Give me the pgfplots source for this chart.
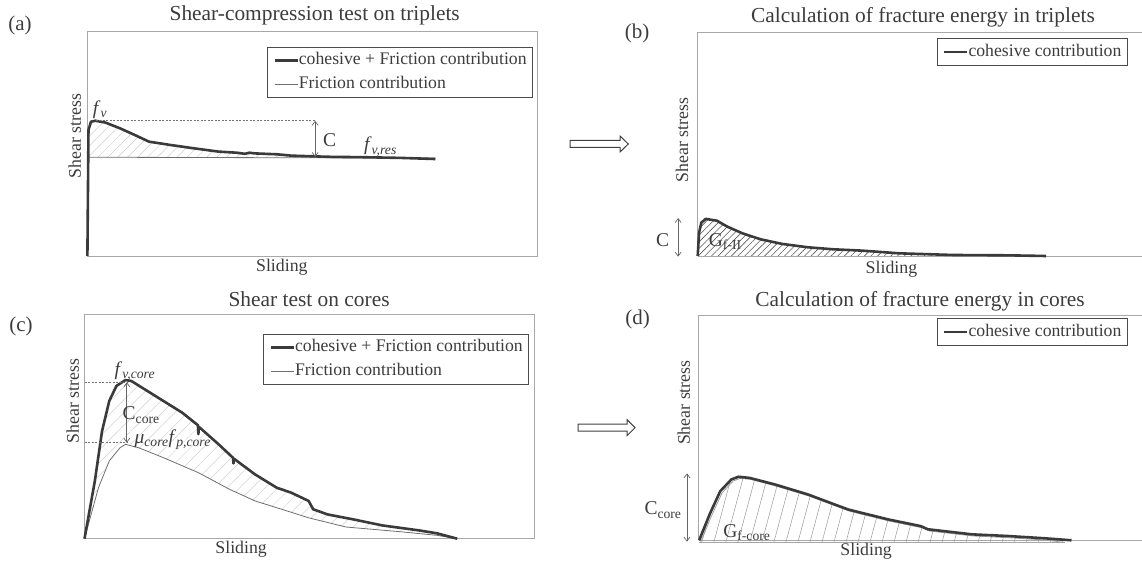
\documentclass[border=0pt]{standalone}
\usepackage{pgfplots}
\pgfplotsset{compat=1.18}
\usepgfplotslibrary{fillbetween}
\usetikzlibrary{patterns.meta,arrows.meta}
\usepackage{fontspec}
\setmainfont{Liberation Serif}

\definecolor{curve}{HTML}{3A3A3A}
\definecolor{fric}{HTML}{6E6E6E}
\definecolor{frame}{HTML}{A8A8A8}
\definecolor{txt}{HTML}{3C3C3C}

\newcommand\fTitle{\fontsize{21.4}{24}\selectfont}
\newcommand\fLab{\fontsize{17.8}{20}\selectfont}
\newcommand\fLeg{\fontsize{17.7}{20}\selectfont}
\newcommand\fTag{\fontsize{21}{24}\selectfont}
\newcommand\fAnn{\fontsize{19.5}{22}\selectfont}

\tikzset{
  boldln/.style={color=curve, line width=2.6pt, line join=round},
  fricln/.style={color=fric, line width=0.8pt},
  ann/.style={draw=black!60, line width=0.7pt,
    {Straight Barb[length=4pt,width=6pt]}-{Straight Barb[length=4pt,width=6pt]}},
  dashln/.style={draw=black!55, line width=0.8pt, dash pattern=on 2pt off 1.5pt},
}

\pgfplotsset{
  panel/.style={scale only axis, set layers, xmin=0, xmax=100, ymin=0, ymax=100,
    xtick=\empty, ytick=\empty, clip=false,
    every axis title shift=0pt,
    axis line style={draw=frame, line width=0.9pt},
    title style={font=\fTitle, text=txt, anchor=center},
    label style={font=\fLab, text=txt, anchor=center},
    legend style={draw=black!70, line width=0.8pt, font=\fLeg, text=txt,
      inner xsep=6pt, inner ysep=4.5pt, row sep=6pt,
      nodes={inner sep=0pt, text height=13pt, text depth=4.5pt},
      cells={anchor=west}, /tikz/every even column/.style={column sep=0pt}},
    legend image code/.code={\draw[#1] (0pt,0pt) -- (23pt,0pt);},
  },
}

\begin{document}
\begin{tikzpicture}[x=1pt,y=1pt]

% (a) shear-compression test on triplets
\begin{axis}[panel, at={(87.4pt,306pt)}, anchor=south west, width=450.1pt, height=225pt,
  title={Shear-compression test on triplets},
  title style={at={(axis description cs:0.505,1.071)}},
  xlabel={Sliding}, xlabel style={at={(axis description cs:0.432,-0.049)}},
  ylabel={Shear stress}, ylabel style={at={(axis description cs:-0.028,0.533)}},
  legend style={at={(0.99,0.929)}, anchor=north east}]
\addlegendimage{boldln}\addlegendentry{cohesive + Friction contribution}
\addlegendimage{fricln}\addlegendentry{Friction contribution}
\addplot[name path=Fa, fricln, forget plot] coordinates {(0,43.9) (77.3,43.5)};
\addplot[name path=Aa, boldln, forget plot] coordinates {
  (0,0) (0.24,56) (0.8,59.7) (1.8,60.1) (4.0,59.3) (7.3,56.7) (10.5,53.8)
  (13.7,50.8) (18.6,49.3) (23.5,47.9) (29.1,46.4) (33.2,45.9) (35,45.4)
  (36,45.9) (37.2,45.6) (42.1,45.2) (45.3,44.6) (53.4,44.1) (61.5,43.9)
  (69.6,43.6) (77.3,43.1)};
\addplot[draw=none, pattern={Lines[angle=45,distance=7pt,line width=0.5pt]},
  pattern color=gray!40, forget plot] fill between[of=Aa and Fa, soft clip={domain=0.3:53}];
\draw[dashln] (axis cs:1.8,60.1) -- (axis cs:50.6,60.1);
\draw[ann] (axis cs:50.6,60.1) -- (axis cs:50.6,44);
\node[font=\fAnn, text=txt] at (axis cs:53.8,51.6) {C};
\node[font=\fAnn, text=txt] at (axis cs:2.8,65) {\textit{f}\textsubscript{\textit{v}}};
\node[font=\fAnn, text=txt] at (axis cs:65.1,48.6) {\textit{f}\textsubscript{\textit{v,res}}};
\end{axis}

% (b) fracture energy in triplets
\begin{axis}[panel, axis lines=left, axis line style={-}, at={(697.7pt,306pt)},
  anchor=south west, width=444.3pt, height=223.5pt,
  title={Calculation of fracture energy in triplets},
  title style={at={(axis description cs:0.507,1.069)}},
  xlabel={Sliding}, xlabel style={at={(axis description cs:0.436,-0.058)}},
  ylabel={Shear stress}, ylabel style={at={(axis description cs:-0.035,0.519)}},
  legend style={at={(0.968,0.974)}, anchor=north east}]
\draw[frame, line width=0.9pt] (rel axis cs:0,1) -- (rel axis cs:1,1);
\addlegendimage{boldln}\addlegendentry{cohesive contribution}
\addplot[name path=Bb, draw=none, forget plot] coordinates {(0,0) (78.4,0)};
\addplot[name path=Ba, boldln, forget plot] coordinates {
  (0,0) (0.3,10.2) (0.8,14.9) (1.8,16.6) (4.3,15.8) (6.7,13.1) (10,10.2)
  (14.1,7.5) (19,5.4) (24.8,3.9) (30.5,3.0) (37,2.4) (45.3,1.2) (57.5,0.45)
  (69.8,0.3) (78.4,0)};
\addplot[draw=none, pattern={Lines[angle=45,distance=4.7pt,line width=0.6pt]},
  pattern color=black!65, forget plot] fill between[of=Ba and Bb];
\draw[ann] (axis cs:-4.4,17) -- (axis cs:-4.4,-0.3);
\node[font=\fAnn, text=txt] at (axis cs:-7.9,7.2) {C};
\node[font=\fAnn, text=txt] at (axis cs:6.2,6.4) {G\textsubscript{f-II}};
\end{axis}

% (c) shear test on cores
\begin{axis}[panel, at={(84.5pt,23.3pt)}, anchor=south west, width=450.1pt, height=224.7pt,
  title={Shear test on cores},
  title style={at={(axis description cs:0.499,1.065)}},
  xlabel={Sliding}, xlabel style={at={(axis description cs:0.348,-0.045)}},
  ylabel={Shear stress}, ylabel style={at={(axis description cs:-0.026,0.613)}},
  legend style={at={(0.988,0.912)}, anchor=north east}]
\addlegendimage{boldln}\addlegendentry{cohesive + Friction contribution}
\addlegendimage{fricln}\addlegendentry{Friction contribution}
\addplot[name path=Cf, fricln, forget plot] coordinates {
  (0,0) (3.1,22.7) (5.5,34.6) (7.9,40.5) (9.1,42) (12,40.5) (17.6,36)
  (25.3,29.4) (32.2,22) (37.9,16.8) (42.7,13.8) (49.8,9.3) (58.1,5.2)
  (70.2,3.1) (78.3,1.5) (82.8,0)};
\addplot[name path=Cb, boldln, forget plot] coordinates {
  (0,0) (2.3,25.7) (3.9,47.9) (5.5,61.3) (7.1,68) (9.1,70.6) (10.4,70.2)
  (15.2,64.2) (21.7,56.1) (25.2,50.5) (25.3,46.5) (25.4,49.8) (29.8,42)
  (33.0,36) (33.1,33.5) (33.2,35.6) (37.9,28.6) (42.7,22.7) (45.9,20.5)
  (49.8,16.8) (50.8,13.1) (54,10.8) (59.7,8.6) (66.2,5.9) (74.3,3.7)
  (78.3,2.4) (82.8,0)};
\addplot[draw=none, pattern={Lines[angle=45,distance=9pt,line width=0.5pt]},
  pattern color=gray!35, forget plot] fill between[of=Cb and Cf];
\draw[dashln] (axis cs:0,69.6) -- (axis cs:9.4,69.6);
\draw[dashln] (axis cs:0,42.7) -- (axis cs:9.4,42.7);
\draw[ann] (axis cs:9.4,69.6) -- (axis cs:9.4,42.7);
\node[font=\fAnn, text=txt] at (axis cs:12.6,55) {C\textsubscript{core}};
\node[font=\fAnn, text=txt] at (axis cs:11.2,74.4) {\textit{f}\textsubscript{\textit{v,core}}};
\node[font=\fAnn, text=txt] at (axis cs:19.6,44) {\textit{μ}\textsubscript{\textit{core}}\textit{f}\textsubscript{\textit{p,core}}};
\end{axis}

% (d) fracture energy in cores
\begin{axis}[panel, axis lines=left, axis line style={-}, at={(698.5pt,21.7pt)},
  anchor=south west, width=443.5pt, height=225.3pt,
  title={Calculation of fracture energy in cores},
  title style={at={(axis description cs:0.4995,1.062)}},
  xlabel={Sliding}, xlabel style={at={(axis description cs:0.378,-0.0475)}},
  ylabel={Shear stress}, ylabel style={at={(axis description cs:-0.033,0.611)}},
  legend style={at={(0.968,0.985)}, anchor=north east}]
\draw[frame, line width=0.9pt] (rel axis cs:0,1) -- (rel axis cs:1,1);
\addlegendimage{boldln}\addlegendentry{cohesive contribution}
\addplot[name path=Db, fricln, color=gray!70, forget plot] coordinates {(0.2,-1) (82.6,-1)};
\addplot[fricln, color=gray!75, forget plot] coordinates {
  (0.5,-0.8) (2.9,10.7) (5.3,21) (7.8,26.3) (9.4,27.5) (11.9,27) (17.6,24)
  (25,19.6) (34.1,12.9) (43.1,8.5) (50.5,5.5) (52.1,4.1) (62,1.9) (70.2,1.1)
  (78.4,0.1) (82.6,-1)};
\addplot[name path=Da, boldln, forget plot] coordinates {
  (0.16,0) (2.5,11.5) (4.9,21.8) (7.4,27) (9.0,28.2) (11.5,27.7) (17.2,24.8)
  (24.6,20.4) (33.7,13.7) (42.7,9.3) (50.1,6.3) (51.7,4.9) (61.6,2.65)
  (69.8,1.9) (78,0.9) (84.1,0)};
\addplot[draw=none, pattern={Lines[angle=75,distance=11.6pt,line width=0.5pt]},
  pattern color=gray!80, forget plot] fill between[of=Da and Db];
\draw[ann] (axis cs:-2.6,29.7) -- (axis cs:-2.6,-0.6);
\node[font=\fAnn, text=txt] at (axis cs:-8,13.4) {C\textsubscript{core}};
\node[font=\fAnn, text=txt] at (axis cs:10.9,3.6) {G\textsubscript{f-core}};
\end{axis}

% panel tags
\node[font=\fTag, text=txt] at (20,537) {(a)};
\node[font=\fTag, text=txt] at (637,529) {(b)};
\node[font=\fTag, text=txt] at (21,235.3) {(c)};
\node[font=\fTag, text=txt] at (637.5,242.7) {(d)};

% hollow arrows between panels
\draw[line width=1pt, draw=black!75, fill=white]
  (570,414.5) -- (620,414.5) -- (620,410) -- (628.3,418) -- (620,426) -- (620,421.5) -- (570,421.5) -- cycle;
\draw[line width=1pt, draw=black!75, fill=white]
  (578,130.8) -- (627,130.8) -- (627,126.3) -- (635,134.3) -- (627,142.3) -- (627,137.8) -- (578,137.8) -- cycle;

\pgfresetboundingbox
\useasboundingbox (0,0) rectangle (1142,562);
\end{tikzpicture}
\end{document}
